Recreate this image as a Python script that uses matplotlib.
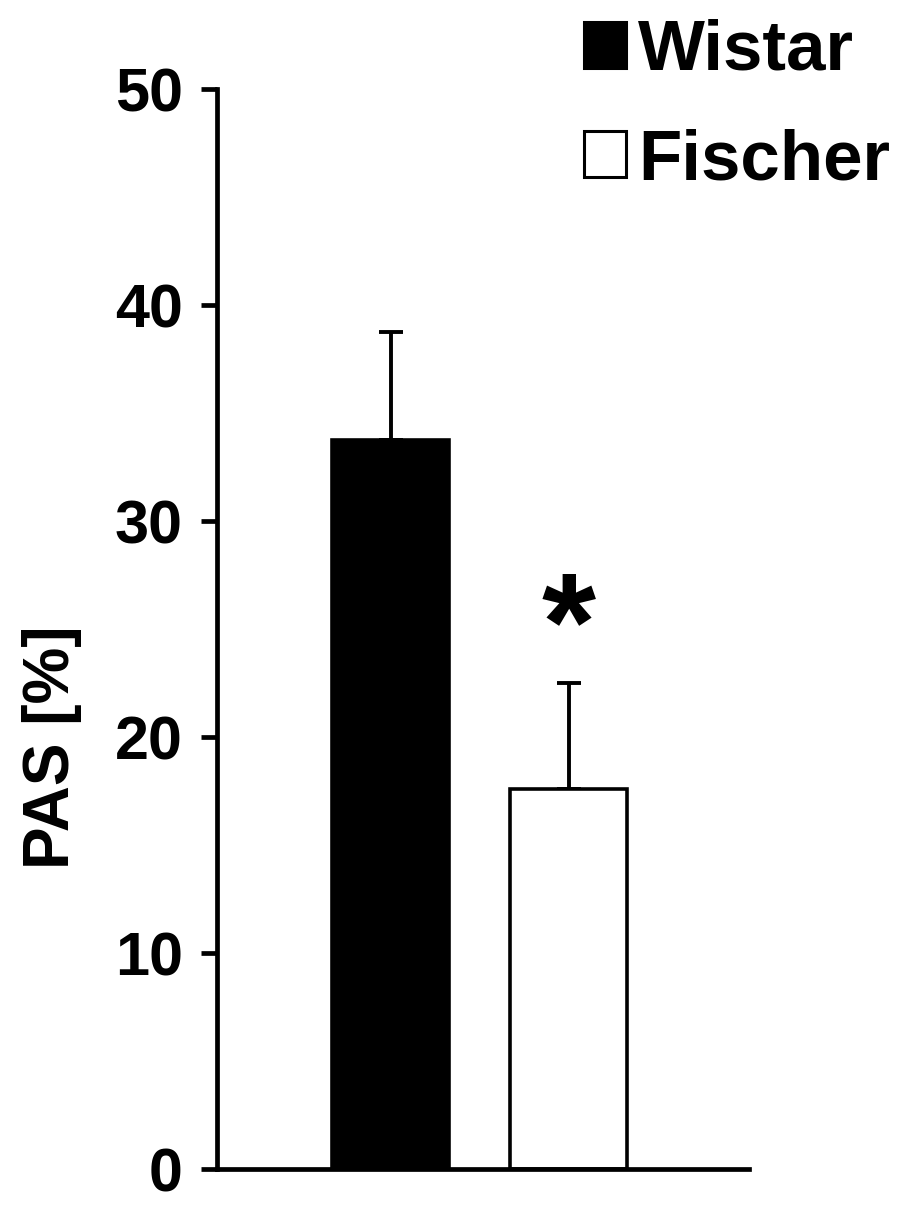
import matplotlib
matplotlib.use("Agg")
import matplotlib.pyplot as plt
from matplotlib.patches import Rectangle

# data
groups = ["Wistar", "Fischer"]
means = [33.75, 17.6]
sem = [5.0, 4.9]
bar_colors = ["black", "white"]
yticks = [0, 10, 20, 30, 40, 50]

plt.rcParams['font.family'] = ['Liberation Sans', 'DejaVu Sans']
plt.rcParams['font.weight'] = 'bold'

W, H = 920, 1210
fig = plt.figure(figsize=(W / 100, H / 100), dpi=100)
ax = fig.add_axes([217 / W, 41 / H, 532 / W, 1080 / H])

x = list(range(len(groups)))
ax.bar(x, means, width=0.657, color=bar_colors, edgecolor="black", linewidth=2.6, zorder=2)
ax.errorbar(x, means, yerr=[[0] * len(sem), sem], fmt="none", ecolor="black",
            elinewidth=2.8, capsize=8.6, capthick=2.8, zorder=1)

ax.set_xlim(-0.975, 2.014)
ax.set_ylim(0, 50)
ax.set_yticks(yticks)
ax.set_xticks([])
for s in ["top", "right"]:
    ax.spines[s].set_visible(False)
for s in ["left", "bottom"]:
    ax.spines[s].set_linewidth(3.4)
ax.tick_params(axis="y", direction="out", length=11.5, width=3.4, pad=13, labelsize=44)

ax.set_ylabel("PAS [%]", fontsize=46, fontweight="bold", ha="center", va="center")
ax.yaxis.set_label_coords((52 - 217) / 532, (1169 - 747) / 1080)

# significance star above Fischer
ax.text(1, means[1] + sem[1] + 0.65, "*", ha="center", va="baseline", fontsize=100, fontweight="bold")

# legend at top right
for i, (name, col) in enumerate(zip(groups, bar_colors)):
    top = 22 + i * 109
    fig.add_artist(Rectangle((584 / W, 1 - (top + 46) / H), 42 / W, 46 / H,
                             transform=fig.transFigure, facecolor=col, edgecolor="black", linewidth=2.2))
    fig.text(638 / W, 1 - (top + 48) / H, name, fontsize=51, fontweight="bold", va="baseline", ha="left")

fig.savefig("out.png", dpi=100)
